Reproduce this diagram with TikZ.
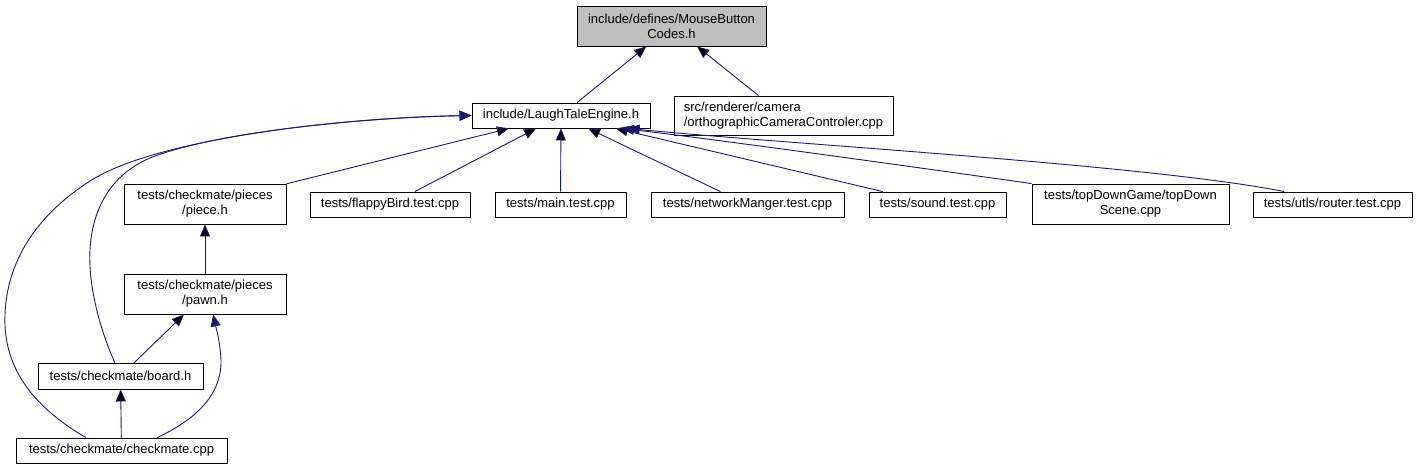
\documentclass[tikz,border=0pt]{standalone}
\usepackage{fontspec}
\setmainfont{Liberation Sans}
\usepackage{tikz}
\usetikzlibrary{arrows.meta}
\definecolor{edgeBlue}{HTML}{191970}
\definecolor{mainGray}{HTML}{BFBFBF}

\begin{document}
\begin{tikzpicture}[x=1pt, y=-1pt,
        every node/.style={font=\fontsize{13}{15}\selectfont}]
        \tikzstyle{fileStyle} = [rectangle, draw=black, line width=0.9pt, fill=white, inner sep=0pt, align=center]
        \tikzstyle{blueEdge} = [draw=edgeBlue, line width=0.9pt, -{Triangle[length=12pt,width=10pt]}]
        \useasboundingbox (0,0) rectangle (1421,469);
        \node[fileStyle, fill=mainGray, minimum width=189, minimum height=40] (MBC) at (671.5,26) {include/defines/MouseButton\\Codes.h};
        \node[fileStyle, minimum width=178, minimum height=25] (LTE) at (561,115.5) {include/LaughTaleEngine.h};
        \node[fileStyle, minimum width=219, minimum height=39, align=left] (CAM) at (783.5,115.5) {src/renderer/camera\\/orthographicCameraControler.cpp};
        \node[fileStyle, minimum width=162, minimum height=40] (PIECE) at (205,204) {tests/checkmate/pieces\\/piece.h};
        \node[fileStyle, minimum width=160, minimum height=25] (FLAP) at (390,204.5) {tests/flappyBird.test.cpp};
        \node[fileStyle, minimum width=131, minimum height=25] (MAIN) at (560.5,204.5) {tests/main.test.cpp};
        \node[fileStyle, minimum width=193, minimum height=25] (NET) at (747.5,204.5) {tests/networkManger.test.cpp};
        \node[fileStyle, minimum width=137, minimum height=25] (SND) at (937.5,204.5) {tests/sound.test.cpp};
        \node[fileStyle, minimum width=197, minimum height=40] (TDS) at (1130.5,204) {tests/topDownGame/topDown\\Scene.cpp};
        \node[fileStyle, minimum width=159, minimum height=25] (RTR) at (1332.5,204.5) {tests/utls/router.test.cpp};
        \node[fileStyle, minimum width=162, minimum height=40] (PAWN) at (205,294) {tests/checkmate/pieces\\/pawn.h};
        \node[fileStyle, minimum width=165, minimum height=26] (BOARD) at (120.5,376) {tests/checkmate/board.h};
        \node[fileStyle, minimum width=211, minimum height=25] (CHK) at (121.5,450.5) {tests/checkmate/checkmate.cpp};
        \path[blueEdge] (LTE) edge (MBC);
        \path[blueEdge] (CAM) edge (MBC);
        \path[blueEdge] (PIECE) edge (LTE);
        \path[blueEdge] (FLAP) edge (LTE);
        \path[blueEdge] (MAIN) edge (LTE);
        \path[blueEdge] (NET) edge (LTE);
        \path[blueEdge] (SND) edge (LTE);
        \path[blueEdge] (TDS.north west) .. controls (900,165) and (720,140) .. (LTE.-12);
        \path[blueEdge] (RTR.165) .. controls (1150,165) and (800,145) .. (LTE.-11);
        \path[blueEdge] (BOARD.113) .. controls (100,330) and (88,285) .. (90,250)
            .. controls (92,210) and (110,175) .. (150,158)
            .. controls (220,130) and (380,117) .. (LTE.west);
        \path[blueEdge] (CHK.160) .. controls (30,405) and (3,365) .. (5,315)
            .. controls (7,250) and (50,205) .. (95,178)
            .. controls (160,140) and (330,118) .. (LTE.west);
        \path[blueEdge] (PAWN) edge (PIECE);
        \path[blueEdge] (BOARD) edge (PAWN);
        \path[blueEdge] (CHK) edge (BOARD);
        \path[blueEdge] (CHK.20) .. controls (195,420) and (222,395) .. (221,360)
            .. controls (220,340) and (216,328) .. (PAWN.-68);
    \end{tikzpicture}
\end{document}
